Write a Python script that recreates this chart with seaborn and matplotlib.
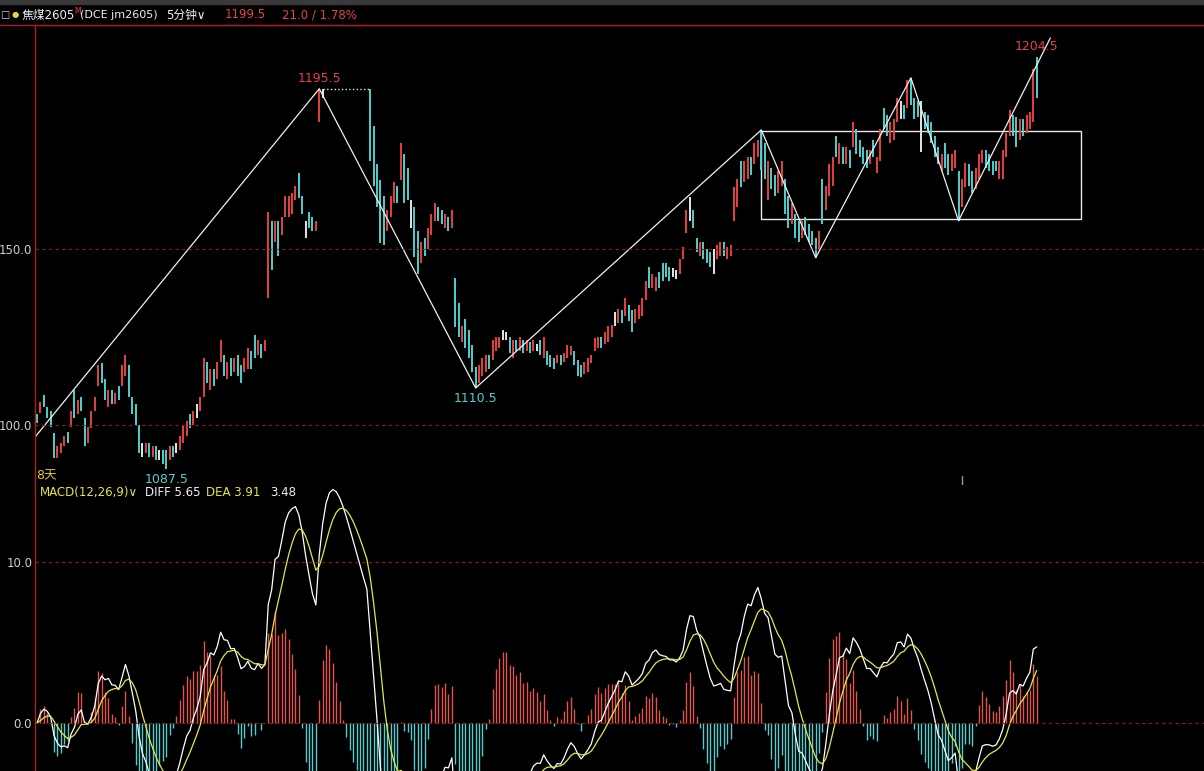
import numpy as np
import pandas as pd
import seaborn as sns
import matplotlib.pyplot as plt
from matplotlib.lines import Line2D
from matplotlib.patches import Rectangle

sns.set_style('dark')
plt.rcParams['font.family'] = ['DejaVu Sans', 'Noto Sans CJK SC']
plt.rcParams['axes.unicode_minus'] = False

# 5分钟K线: 每根的最低/最高价, 颜色 r=阳 c=阴 w=平 g=无K线(虚线)
left_lo = [1100.6, 1103.4, 1105, 1102, 1099.5, 1090.6, 1090.6, 1092, 1094, 1095,
           1099.5, 1102, 1103, 1104, 1094, 1095, 1099, 1104, 1111, 1112,
           1107, 1105, 1106, 1106, 1107, 1111, 1114, 1108, 1103, 1100,
           1092, 1091, 1092, 1091, 1091, 1090, 1090, 1089, 1087.5, 1090,
           1091, 1092, 1093, 1095, 1097, 1099, 1100, 1102, 1104, 1108,
           1112, 1110, 1111, 1113, 1118, 1114, 1113, 1114, 1115, 1114,
           1112, 1115, 1116, 1116, 1119, 1120, 1119, 1121]
left_hi = [1103, 1106.5, 1108.5, 1105, 1104, 1097.7, 1094, 1095, 1097, 1098,
           1104, 1110, 1107, 1108, 1102, 1099.5, 1104, 1108, 1117, 1117.6,
           1113, 1110, 1110, 1109, 1111, 1117, 1120, 1117, 1108, 1106,
           1100, 1095, 1095, 1095, 1094, 1094, 1093, 1093, 1093, 1094,
           1094, 1095, 1097, 1100, 1101, 1103, 1104, 1106, 1108, 1119,
           1118, 1116, 1116, 1118, 1124, 1120, 1118, 1119, 1119, 1120,
           1117, 1119, 1122, 1121, 1125.6, 1124, 1123, 1124]
left_col = "crccccrrrc" "rcrccrrrrc" "crcrcrrccc" "cwrcrcwccr" "cwrrrcrwrr" "crcrrcrcrc" "crrccrcr"

rally_lo = [1136, 1144, 1152, 1148, 1154, 1159, 1159, 1160, 1164, 1164.5,
            1160, 1153, 1156, 1155, 1155, 1186, 1193]
rally_hi = [1160.5, 1158, 1158, 1158, 1159, 1165, 1165, 1166, 1168, 1171.6,
            1165, 1158, 1160.5, 1159, 1158, 1195.5, 1195.5]
rally_col = "rcrcrrrrrccwccrrw"

gap_px = [1195.5, 1195.5, 1195.5, 1195.5, 1195.5, 1195.5, 1195.5,
          1195.5, 1195.5, 1195.5, 1195.5, 1195.5, 1195.5]

drop_lo = [1175, 1168, 1162, 1151.7, 1151, 1155, 1159, 1163, 1163, 1169.6,
           1163, 1164, 1156, 1147.7, 1143, 1146, 1148, 1150, 1154, 1158,
           1158, 1157, 1156, 1155, 1156, 1127.8, 1125, 1123.6, 1122, 1119,
           1115, 1110.5]
drop_hi = [1195.5, 1185, 1174, 1169.6, 1165, 1161, 1165, 1169, 1168, 1180,
           1177, 1173, 1164, 1162, 1155, 1152, 1153, 1156, 1160, 1163,
           1162, 1161, 1160, 1159, 1161, 1141.8, 1134.7, 1128, 1130, 1127,
           1122.7, 1116.5]
drop_col = "cccccrrrcr" "ccwccrcrrr" "ccrcrccrcc" "cc"

rise_lo = [1112, 1114, 1115, 1116, 1118.5, 1121, 1122, 1124, 1124, 1120.5,
           1119, 1121, 1121, 1120.5, 1121, 1120.5, 1121, 1121, 1120, 1119,
           1117, 1116.5, 1116, 1117.6, 1117, 1118, 1119, 1120, 1117, 1114,
           1113.6, 1114.5, 1115, 1117.6, 1121, 1122, 1122, 1123, 1123.6, 1125,
           1128, 1129, 1129, 1131, 1129.5, 1126.4, 1129, 1130, 1131, 1135.5,
           1139, 1139, 1138, 1139, 1141, 1142, 1141, 1142, 1141.5, 1143,
           1147, 1154.5, 1158, 1156, 1149, 1148, 1147, 1146, 1145, 1143,
           1147, 1148, 1148, 1147, 1148, 1158, 1162, 1167.6, 1169, 1170,
           1171, 1174, 1176, 1172.4]
rise_hi = [1117, 1119, 1120, 1120, 1124, 1125, 1125, 1127, 1126.5, 1125,
           1124, 1124, 1125, 1124, 1124, 1123.5, 1124, 1123, 1124, 1125,
           1121, 1120, 1119, 1120, 1120, 1120.5, 1122.7, 1122.5, 1121, 1118.5,
           1117, 1118, 1119, 1120, 1124.7, 1125, 1125, 1126.4, 1128, 1128.5,
           1132, 1133, 1132.7, 1136, 1134, 1132.7, 1133, 1134, 1136, 1141,
           1145, 1143, 1142, 1143.5, 1146, 1146, 1145, 1144.5, 1144, 1147,
           1150.5, 1161, 1164.7, 1161, 1153, 1152, 1152, 1150, 1149, 1150,
           1151, 1152, 1152, 1150.5, 1151, 1167.6, 1170, 1175, 1175, 1176,
           1176, 1180, 1181, 1183.8]
rise_col = ("rrrcrrrwwc" "rcrcrcrwcr" "cccrcrrrcc" "crrrrrcrrr" "wrcrccrrrr"
            "crrccccwwr" "rrwccrcccw" "rrcrrrrcrr" "crrc")

box_lo = [1170, 1164, 1167, 1165, 1166, 1168, 1160, 1156, 1157, 1153,
          1152, 1153, 1154, 1152, 1151, 1147.5, 1150, 1157, 1161, 1165,
          1168, 1176, 1174, 1174, 1174, 1173, 1179, 1177, 1176, 1174,
          1173, 1174, 1176, 1171.6, 1175, 1184, 1182, 1180, 1181, 1186,
          1187, 1187, 1190, 1191, 1187, 1187.5, 1177.6, 1184, 1183, 1180,
          1176, 1174, 1172, 1173, 1171, 1172, 1173, 1158, 1162, 1167.6,
          1168, 1166, 1167, 1170, 1174.4, 1173, 1172, 1171, 1172, 1170,
          1170, 1176, 1182, 1182, 1179, 1181, 1182, 1183, 1184, 1186,
          1193]
box_hi = [1180, 1175, 1173, 1171, 1172, 1175, 1170, 1165, 1163, 1160,
          1158, 1158, 1159, 1157, 1155, 1153, 1155, 1170, 1168, 1174,
          1176, 1182, 1180, 1179, 1179, 1178, 1186, 1184, 1181, 1179,
          1178, 1178, 1181, 1176, 1184, 1190, 1188, 1186, 1187, 1193,
          1192, 1191, 1198, 1198.6, 1193, 1192, 1192, 1189, 1188, 1186,
          1182, 1179, 1177, 1180, 1177, 1177, 1178, 1172, 1170, 1174.4,
          1174, 1172, 1173, 1177, 1178, 1178, 1177, 1175, 1175, 1175,
          1178, 1183, 1189.5, 1188, 1187.5, 1187, 1187, 1188, 1189, 1201,
          1204.5]
box_col = ("crccrrccrc" "crccccrcrr" "rcrcrcrccc" "crcrrccrrr" "wcrcccwccc"
           "ccrccrrcrr" "ccrrrccccr" "rrrccrcrrr" "c")

# 画线: 折线拐点(K线序号, 价格), 矩形
zz_x = [-2, 83, 129, 213, 229, 257, 271, 298]
zz_y = [1094.9, 1195.5, 1110.5, 1183.8, 1147.5, 1198.6, 1158, 1209.9]
box_x = [213, 307]
box_y = [1158.5, 1183.5]
tags = [(83, 1195.5, '1195.5', 'hi'), (129, 1110.5, '1110.5', 'lo'),
        (38, 1087.5, '1087.5', 'lo'), (294, 1204.5, '1204.5', 'hi')]

lo = np.array(left_lo + rally_lo + gap_px + drop_lo + rise_lo + box_lo)
hi = np.array(left_hi + rally_hi + gap_px + drop_hi + rise_hi + box_hi)
col = np.array(list(left_col + rally_col + 'g' * len(gap_px) + drop_col + rise_col + box_col))
idx = np.arange(len(lo))

# MACD(12,26,9); 这里K线比原图稀 (约3.4px/根 对 2.5px/根), 周期按同样宽度折算
k = 2.5 / 3.4
close = np.where(col == 'r', hi, np.where(col == 'c', lo, (lo + hi) / 2))
s = pd.Series(close)
diff = s.ewm(span=1 + 11 * k, adjust=False).mean() - s.ewm(span=1 + 25 * k, adjust=False).mean()
dea = diff.ewm(span=1 + 8 * k, adjust=False).mean()
macd = 2 * (diff - dea)

RED = '#e8413f'
CYAN = '#4fd0d0'
WHITE = '#e6e6e6'
EDGE = '#b21e1e'
GRID = '#8a1c1c'

fig = plt.figure(figsize=(12.04, 7.71), dpi=100, facecolor='black')
ax = fig.add_axes([35 / 1204, 1 - 485 / 771, 1169 / 1204, 460 / 771])
ax2 = fig.add_axes([35 / 1204, 0, 1169 / 1204, 1 - 485 / 771], sharex=ax)

for a in (ax, ax2):
    a.set_facecolor('black')
    for sp in a.spines.values():
        sp.set_visible(False)
    a.spines['left'].set_visible(True)
    a.spines['left'].set_color(EDGE)
    a.spines['left'].set_linewidth(1)
    a.grid(False)
    a.tick_params(length=0, colors='#cfcfcf', labelsize=8.5, pad=2)
ax.spines['top'].set_visible(True)
ax.spines['top'].set_color(EDGE)
ax.spines['bottom'].set_visible(True)
ax.spines['bottom'].set_color(EDGE)

# K线
for key, c in (('r', RED), ('c', CYAN), ('w', WHITE)):
    m = col == key
    ax.vlines(idx[m], lo[m], hi[m], colors=c, linewidth=1.4)

gi = idx[col == 'g']
gx = np.r_[gi[0] - 1, gi, gi[-1] + 1]
ax.plot(gx, hi[gx], color=WHITE, linestyle=':', linewidth=1)

ax.plot(zz_x, zz_y, color='#f0f0f0', linewidth=0.9)
ax.add_patch(Rectangle((box_x[0], box_y[0]), box_x[1] - box_x[0], box_y[1] - box_y[0],
                       fill=False, edgecolor='#e8e8e8', linewidth=1))

for x, y, t, kind in tags:
    c = RED if kind == 'hi' else CYAN
    off = (0, 3) if kind == 'hi' else (0, -3)
    ax.annotate(t, (x, y), xytext=off, textcoords='offset points', ha='center',
                va='bottom' if kind == 'hi' else 'top', color=c, fontsize=9)

for yv in (1150, 1100):
    ax.axhline(yv, color=GRID, linestyle=(0, (3, 3)), linewidth=0.8)
ax.set_yticks([1150, 1100])
ax.set_yticklabels(['150.0', '100.0'])
ax.set_xlim(-0.6, 343.2)
ax.set_ylim(1082.95, 1213.6)
ax.text(0.001, 0.005, '8天', transform=ax.transAxes, color='#e0c040', fontsize=9, va='bottom')
ax.axvline(272, ymin=0, ymax=0.02, color='#9a9a9a', linewidth=1)
ax.tick_params(axis='x', labelbottom=False)

# MACD
pos = macd.values >= 0
ax2.vlines(idx[pos], 0, macd.values[pos], colors='#df5550', linewidth=1.0)
ax2.vlines(idx[~pos], 0, macd.values[~pos], colors='#56cccc', linewidth=1.0)
sns.lineplot(x=idx, y=diff.values, ax=ax2, color='white', linewidth=0.9)
sns.lineplot(x=idx, y=dea.values, ax=ax2, color='#e6e64a', linewidth=0.9)
for yv in (10, 0):
    ax2.axhline(yv, color=GRID, linestyle=(0, (3, 3)), linewidth=0.8)
ax2.set_yticks([10, 0])
ax2.set_yticklabels(['10.0', '0.0'])
ax2.set_ylim(-2.98, 14.78)
ax2.set_xticks([])
ax2.set_xlabel('')
ax2.set_ylabel('')

def ft(x, y, s, c, size=9, **kw):
    fig.text(x / 1204, 1 - y / 771, s, color=c, fontsize=size, va='center', **kw)

ft(40, 493, 'MACD(12,26,9)∨', '#e6e64a', 8.5)
ft(145, 493, 'DIFF 5.65', '#f0f0f0', 8.5)
ft(206, 493, 'DEA 3.91', '#e6e64a', 8.5)
ft(270, 493, '3.48', '#f0f0f0', 8.5)

# 顶部标题栏
fig.patches.append(Rectangle((0, 1 - 4 / 771), 1, 4 / 771, transform=fig.transFigure,
                             color='#3a3a3a', zorder=0))
fig.lines.append(Line2D([0, 1], [1 - 25 / 771, 1 - 25 / 771], transform=fig.transFigure,
                        color=EDGE, linewidth=1))
ft(0.5, 15, '□', '#cfcfcf', 7)
ft(12, 15, '●', '#e8d040', 6)
ft(22, 15, '焦煤2605', '#f0f0f0', 8.5)
ft(74, 11, 'M', RED, 5.5)
ft(80, 15, '(DCE jm2605)', '#f0f0f0', 8)
ft(166, 15, '5分钟∨', '#f0f0f0', 8.5)
ft(225, 15, '1199.5', RED, 8.5)
ft(282, 15, '21.0 / 1.78%', RED, 8.5)

fig.savefig('out.png', dpi=100, facecolor='black')
